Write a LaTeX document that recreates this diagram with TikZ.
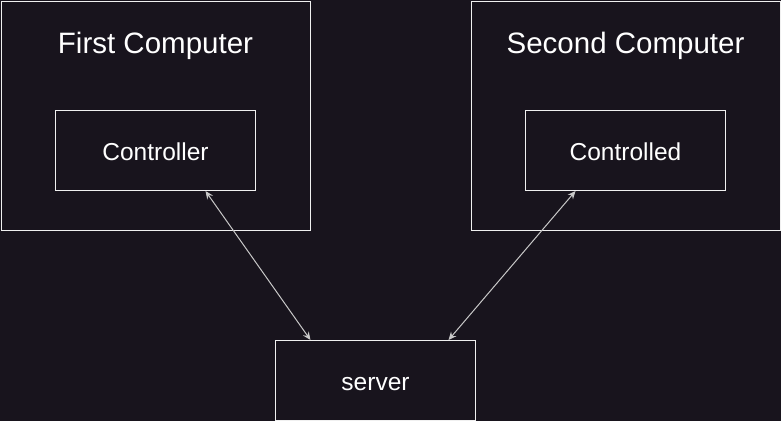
\documentclass[tikz,border=0pt]{standalone}
\usepackage{fontspec}
\setmainfont{Liberation Sans}
\usetikzlibrary{arrows.meta}
\definecolor{bg}{RGB}{24,20,29}
\definecolor{edge}{RGB}{240,240,240}
\definecolor{link}{RGB}{200,200,200}
\begin{document}
\begin{tikzpicture}[x=1pt,y=-1pt,
  box/.style={draw=edge,line width=1pt,inner sep=0pt,anchor=north west,text=white},
  lbl/.style={font=\fontsize{24.5}{28}\selectfont,text height=20pt,text depth=0pt},
  ttl/.style={text=white,font=\fontsize{29.5}{34}\selectfont},
  link/.style={draw=link,line width=1pt,{Stealth[length=8pt,width=7pt]}-{Stealth[length=8pt,width=7pt]}}]
\fill[bg] (0,0) rectangle (781,421);
\useasboundingbox (0,0) rectangle (781,421);
\node[box,minimum width=309pt,minimum height=229pt] (pc1) at (0.5,0.5) {};
\node[box,minimum width=309pt,minimum height=229pt] (pc2) at (470.5,0.5) {};
\node[ttl] (t1) at (155.5,46) {First Computer};
\node[ttl] (t2) at (625.5,46) {Second Computer};
\node[box,lbl,minimum width=200pt,minimum height=80pt,anchor=center] (ctrl) at (155.5,150.5) {Controller};
\node[box,lbl,minimum width=200pt,minimum height=80pt,anchor=center] (ctld) at (625.5,150.5) {Controlled};
\node[box,lbl,minimum width=200pt,minimum height=80pt,anchor=center] (srv) at (375.5,380.5) {server};
\draw[link] ([xshift=50pt]ctrl.south) -- ([xshift=-65pt]srv.north);
\draw[link] ([xshift=-50pt]ctld.south) -- ([xshift=73pt]srv.north);
\end{tikzpicture}
\end{document}
